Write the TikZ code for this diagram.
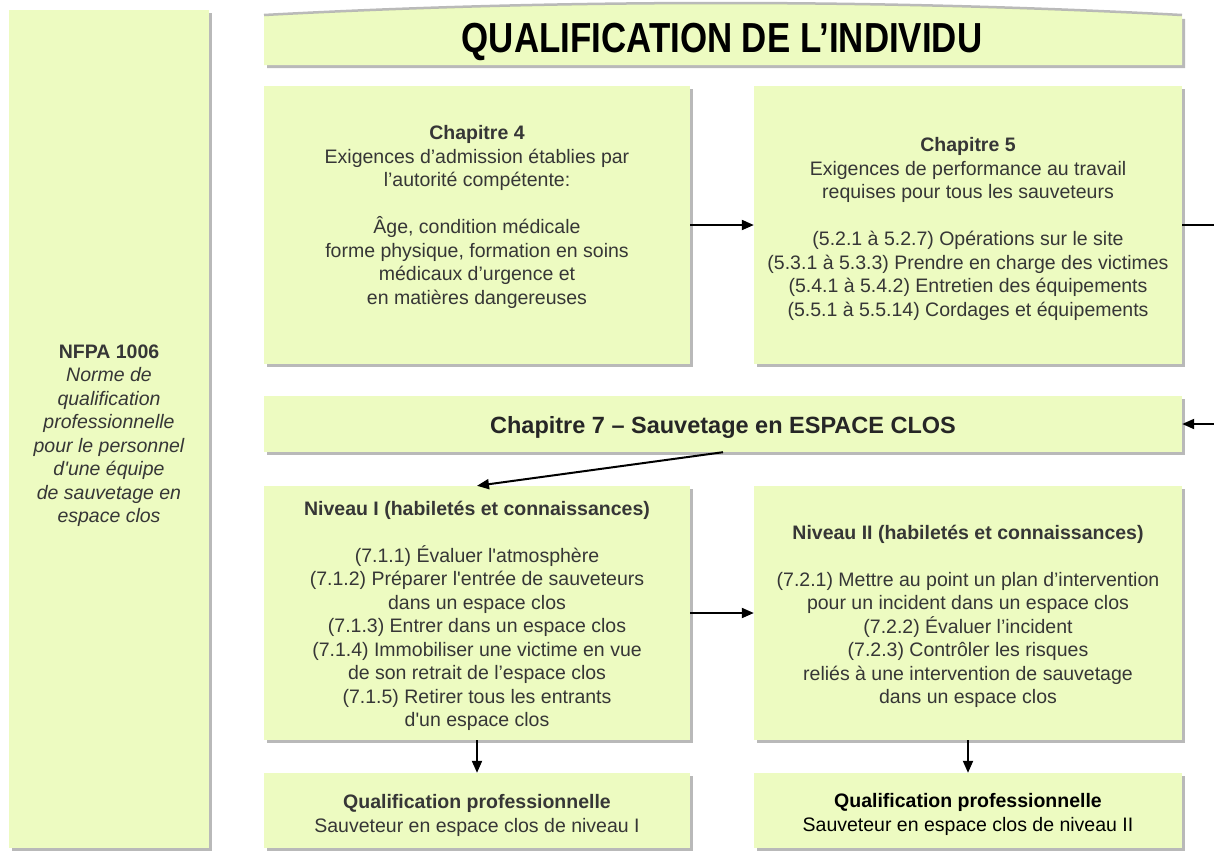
\documentclass[tikz,border=0pt]{standalone}
\usepackage{fontspec}
\setmainfont{Liberation Sans}
\usetikzlibrary{shadows,arrows.meta}
\definecolor{boxfill}{HTML}{EDFBC1}
\definecolor{txtgray}{HTML}{363636}
\newcommand{\sq}{\textquotesingle}
\begin{document}
\begin{tikzpicture}[x=1pt,y=-1pt,
  box/.style={fill=boxfill,draw=none,inner sep=0pt,
    drop shadow={shadow xshift=3pt,shadow yshift=-3pt,fill=black!50,opacity=0.55}},
  txt/.style={inner sep=0pt,align=center,text=txtgray,
    font=\fontsize{19.5}{23.5}\selectfont},
  arr/.style={line width=2pt,-{Triangle[length=12pt,width=10pt]}},
  ln/.style={line width=2pt}]
\useasboundingbox (0,0) rectangle (1214,852);

% left box
\node[box,minimum width=200,minimum height=838] (nfpa) at (109,429) {};
\node[txt,anchor=north] (nfpat) at (109,344.5)
  {\textbf{NFPA 1006}\\ \itshape Norme de\\ \itshape qualification\\ \itshape professionnelle\\
   \itshape pour le personnel\\ \itshape d\sq une équipe\\ \itshape de sauvetage en\\ \itshape espace clos};

% title banner
\fill[black!50,opacity=0.55] (267,19) .. controls (563,3) and (883,3) .. (1185,19) -- (1185,68) -- (267,68) -- cycle;
\fill[boxfill] (264,16) .. controls (560,0) and (880,0) .. (1182,16) -- (1182,65) -- (264,65) -- cycle;
\draw[black!45,line width=2.5pt,opacity=0.6] (264,15) .. controls (560,-1) and (880,-1) .. (1182,15);
\node[inner sep=0pt,anchor=base] (title) at (722,52)
  {\fontsize{42}{42}\selectfont\bfseries\scalebox{0.83}[1]{QUALIFICATION DE L’INDIVIDU}};

% chapter boxes
\node[box,minimum width=426,minimum height=278] (c4) at (477,225) {};
\node[txt,anchor=north] (c4t) at (477,125.5)
  {\textbf{Chapitre 4}\\ Exigences d’admission établies par\\ l’autorité compétente:\\[23.5pt]
   Âge, condition médicale\\ forme physique, formation en soins\\ médicaux d’urgence et\\ en matières dangereuses};

\node[box,minimum width=428,minimum height=278] (c5) at (968,225) {};
\node[txt,anchor=north] (c5t) at (968,137.5)
  {\textbf{Chapitre 5}\\ Exigences de performance au travail\\ requises pour tous les sauveteurs\\[23.5pt]
   (5.2.1 à 5.2.7) Opérations sur le site\\ (5.3.1 à 5.3.3) Prendre en charge des victimes\\
   (5.4.1 à 5.4.2) Entretien des équipements\\ (5.5.1 à 5.5.14) Cordages et équipements};

\node[box,minimum width=918,minimum height=56] (c7) at (723,424) {};
\node[inner sep=0pt,anchor=base,text=black!85] (c7t) at (723,433)
  {\fontsize{23.5}{23.5}\selectfont\bfseries Chapitre 7 – Sauvetage en ESPACE CLOS};

% level boxes
\node[box,minimum width=426,minimum height=254] (n1) at (477,613) {};
\node[txt,anchor=north] (n1t) at (477,500.5)
  {\textbf{Niveau I (habiletés et connaissances)}\\[23.5pt]
   (7.1.1) Évaluer l\sq atmosphère\\ (7.1.2) Préparer l\sq entrée de sauveteurs\\ dans un espace clos\\
   (7.1.3) Entrer dans un espace clos\\ (7.1.4) Immobiliser une victime en vue\\
   de son retrait de l’espace clos\\ (7.1.5) Retirer tous les entrants\\ d\sq un espace clos};

\node[box,minimum width=428,minimum height=254] (n2) at (968,613) {};
\node[txt,anchor=north] (n2t) at (968,524.5)
  {\textbf{Niveau II (habiletés et connaissances)}\\[23.5pt]
   (7.2.1) Mettre au point un plan d’intervention\\ pour un incident dans un espace clos\\
   (7.2.2) Évaluer l’incident\\ (7.2.3) Contrôler les risques\\
   reliés à une intervention de sauvetage\\ dans un espace clos};

% qualification boxes
\node[box,minimum width=426,minimum height=75] (q1) at (477,810.5) {};
\node[txt,anchor=north] (q1t) at (477,794.5)
  {\textbf{Qualification professionnelle}\\ Sauveteur en espace clos de niveau I};

\node[box,minimum width=428,minimum height=75] (q2) at (968,810.5) {};
\node[txt,anchor=north,text=black] (q2t) at (968,793.5)
  {\textbf{Qualification professionnelle}\\ Sauveteur en espace clos de niveau II};

% connectors
\coordinate (edge5) at (1214,225);
\coordinate (edge7) at (1214,424);
\draw[arr] (c4.east) -- (c5.west);
\draw[ln] (c5.east) -- (edge5);
\draw[arr] (edge7) -- (c7.east);
\draw[arr] (c7.south) -- (n1.north);
\draw[arr] (n1.east) -- (n2.west);
\draw[arr] (n1.south) -- (q1.north);
\draw[arr] (n2.south) -- (q2.north);
\end{tikzpicture}
\end{document}
